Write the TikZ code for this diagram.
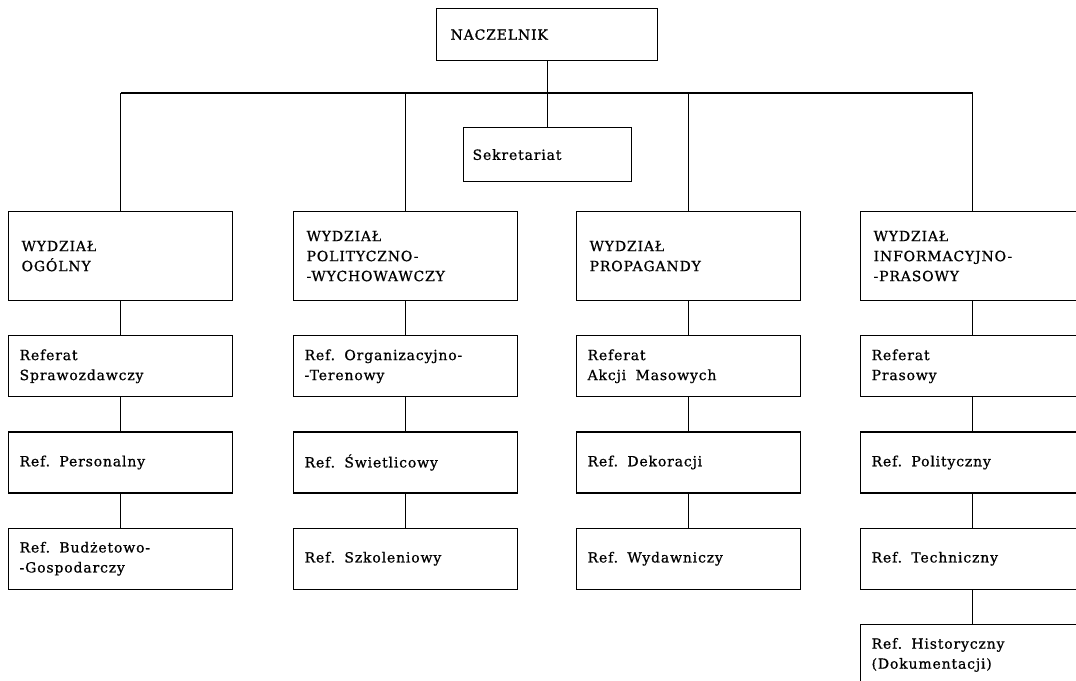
\documentclass[tikz,border=0pt]{standalone}
\usepackage{fontspec}
\setmainfont{DejaVu Serif}[LetterSpace=6, FakeBold=0.8]
\usetikzlibrary{positioning}

\begin{document}
\begin{tikzpicture}[
    x=1pt, y=-1pt,
    node distance=34pt,
    line width=1.2pt,
    font=\fontsize{14}{20}\selectfont,
    dept_node/.style={draw, rectangle, align=left, text width=198pt, inner xsep=13pt, inner ysep=0pt, minimum height=89pt},
    ref_node/.style={draw, rectangle, align=left, text width=202pt, inner xsep=11pt, inner ysep=0pt, minimum height=61pt},
    head_node/.style={draw, rectangle, align=left, inner ysep=0pt}
]
\clip (0,0) rectangle (1076,680);

% --- NODES ---
\node[head_node, anchor=north west, text width=193pt, inner xsep=14pt, minimum height=52pt] (naczelnik) at (436,8) {NACZELNIK};
\node[head_node, anchor=north west, text width=150pt, inner xsep=9pt, minimum height=54pt] (sekretariat) at (463,127) {Sekretariat};

\node[dept_node, anchor=north west] (wo) at (8,211) {WYDZIAŁ\\OGÓLNY};
\node[ref_node, below=of wo] (wo_spraw) {Referat\\Sprawozdawczy};
\node[ref_node, below=of wo_spraw] (wo_pers) {Ref.\ \ Personalny};
\node[ref_node, below=of wo_pers] (wo_budz) {Ref.\ \ Budżetowo-\\-Gospodarczy};

\node[dept_node, anchor=north west] (wpw) at (293,211) {WYDZIAŁ\\POLITYCZNO-\\-WYCHOWAWCZY};
\node[ref_node, below=of wpw] (wpw_org) {Ref.\ \ Organizacyjno-\\-Terenowy};
\node[ref_node, below=of wpw_org] (wpw_swiet) {Ref.\ \ Świetlicowy};
\node[ref_node, below=of wpw_swiet] (wpw_szkol) {Ref.\ \ Szkoleniowy};

\node[dept_node, anchor=north west] (wp) at (576,211) {WYDZIAŁ\\PROPAGANDY};
\node[ref_node, below=of wp] (wp_akcji) {Referat\\Akcji\ \ Masowych};
\node[ref_node, below=of wp_akcji] (wp_dekor) {Ref.\ \ Dekoracji};
\node[ref_node, below=of wp_dekor] (wp_wydaw) {Ref.\ \ Wydawniczy};

\node[dept_node, anchor=north west] (wip) at (860,211) {WYDZIAŁ\\INFORMACYJNO-\\-PRASOWY};
\node[ref_node, below=of wip] (wip_pras) {Referat\\Prasowy};
\node[ref_node, below=of wip_pras] (wip_polit) {Ref.\ \ Polityczny};
\node[ref_node, below=of wip_polit] (wip_techn) {Ref.\ \ Techniczny};
\node[ref_node, below=of wip_techn] (wip_hist) {Ref.\ \ Historyczny\\(Dokumentacji)};

\coordinate (bus) at (548,93);

% --- EDGES ---
\draw (naczelnik.south) -- (naczelnik.south |- bus);
\draw (wo.north |- bus) -- (wip.north |- bus);
\draw (sekretariat.north |- bus) -- (sekretariat.north);
\foreach \d in {wo, wpw, wp, wip}
    \draw (\d.north |- bus) -- (\d.north);

\draw (wo) -- (wo_spraw);
\draw (wo_spraw) -- (wo_pers);
\draw (wo_pers) -- (wo_budz);
\draw (wpw) -- (wpw_org);
\draw (wpw_org) -- (wpw_swiet);
\draw (wpw_swiet) -- (wpw_szkol);
\draw (wp) -- (wp_akcji);
\draw (wp_akcji) -- (wp_dekor);
\draw (wp_dekor) -- (wp_wydaw);
\draw (wip) -- (wip_pras);
\draw (wip_pras) -- (wip_polit);
\draw (wip_polit) -- (wip_techn);
\draw (wip_techn) -- (wip_hist);

\end{tikzpicture}
\end{document}
